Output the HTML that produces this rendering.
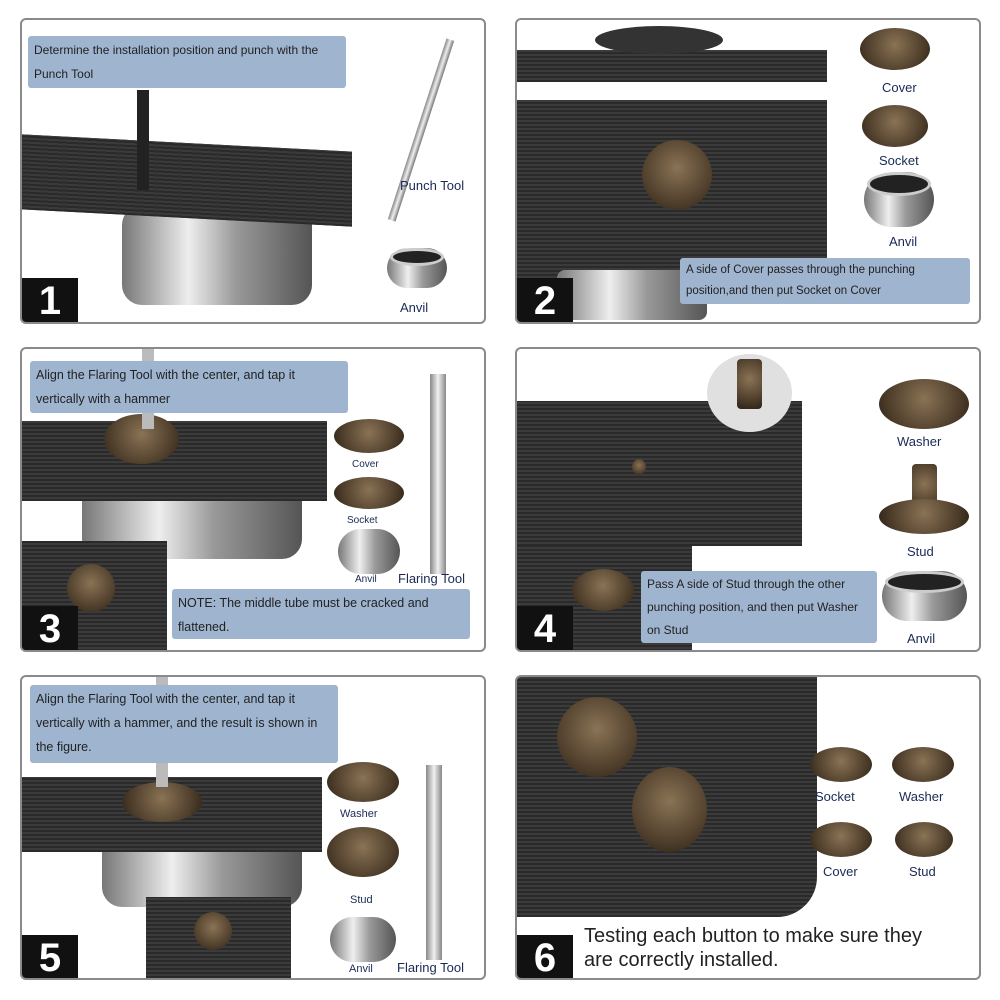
<!DOCTYPE html>
<html><head><meta charset="utf-8"><style>
body{margin:0;width:1000px;height:1000px;background:#fff;position:relative;overflow:hidden;font-family:"Liberation Sans",sans-serif}
.a{position:absolute}
.p{position:absolute;border:2px solid #8a8a8a;border-radius:6px;background:#fff;overflow:hidden;box-sizing:border-box}
.fab{position:absolute;background:repeating-linear-gradient(0deg,#2a2a2a 0 2px,#3b3b3b 2px 4px),#333}
.lab{position:absolute;background:#9fb4cf;color:#222;font-size:12.5px;line-height:26px;padding:2px 6px;box-sizing:border-box;border-radius:3px}
.num{position:absolute;background:#111;color:#fff;font-size:40px;font-weight:bold;width:56px;height:46px;text-align:center;line-height:46px}
.cap{position:absolute;font-size:13px;color:#1a2a55;text-align:center}
.bronze{position:absolute;border-radius:50%;background:radial-gradient(circle at 50% 40%,#8a7355,#4a3a28 70%,#2a2218)}
.silver{position:absolute;border-radius:8px;background:linear-gradient(90deg,#777,#eee 35%,#999 60%,#555)}
.rim{position:absolute;border-radius:50%;background:#222;border:3px solid #ccc;box-sizing:border-box}
</style></head><body>

<div class="p" style="left:20px;top:18px;width:466px;height:306px">
 <div class="silver" style="left:100px;top:185px;width:190px;height:100px;border-radius:20px"></div>
 <div class="fab" style="left:0;top:123px;width:330px;height:75px;transform:skewY(3deg)"></div>
 <div class="a" style="left:115px;top:70px;width:12px;height:100px;background:#222"></div>
 <div class="a" style="left:395px;top:15px;width:8px;height:190px;background:linear-gradient(90deg,#888,#eee,#777);transform:rotate(18deg)"></div>
 <div class="lab" style="left:6px;top:16px;width:318px;height:52px;line-height:24px;font-size:12px">Determine the installation position and punch with the Punch Tool</div>
 <div class="cap" style="left:378px;top:158px">Punch Tool</div>
 <div class="silver" style="left:365px;top:228px;width:60px;height:40px;border-radius:30px"></div>
 <div class="rim" style="left:368px;top:228px;width:54px;height:18px"></div>
 <div class="cap" style="left:378px;top:280px">Anvil</div>
 <div class="num" style="left:0;top:258px">1</div>
</div>

<div class="p" style="left:515px;top:18px;width:466px;height:306px">
 <div class="fab" style="left:0;top:30px;width:310px;height:32px"></div>
 <div class="a" style="left:78px;top:6px;width:128px;height:28px;border-radius:50%;background:#333"></div>
 <div class="fab" style="left:0;top:80px;width:310px;height:200px"></div>
 <div class="silver" style="left:40px;top:250px;width:150px;height:50px"></div>
 <div class="bronze" style="left:125px;top:120px;width:70px;height:70px"></div>
 <div class="bronze" style="left:343px;top:8px;width:70px;height:42px"></div>
 <div class="cap" style="left:365px;top:60px">Cover</div>
 <div class="bronze" style="left:345px;top:85px;width:66px;height:42px"></div>
 <div class="cap" style="left:362px;top:133px">Socket</div>
 <div class="silver" style="left:347px;top:152px;width:70px;height:55px;border-radius:30px"></div>
 <div class="rim" style="left:350px;top:152px;width:64px;height:24px"></div>
 <div class="cap" style="left:372px;top:214px">Anvil</div>
 <div class="lab" style="left:163px;top:238px;width:290px;height:46px;font-size:11.5px;line-height:21px">A side of Cover passes through the punching position,and then put Socket on Cover</div>
 <div class="num" style="left:0;top:258px">2</div>
</div>

<div class="p" style="left:20px;top:347px;width:466px;height:305px">
 <div class="silver" style="left:60px;top:130px;width:220px;height:80px;border-radius:20px"></div>
 <div class="fab" style="left:0;top:72px;width:305px;height:80px"></div>
 <div class="bronze" style="left:82px;top:65px;width:75px;height:50px"></div>
 <div class="a" style="left:120px;top:0;width:12px;height:80px;background:#bbb"></div>
 <div class="fab" style="left:0;top:192px;width:145px;height:110px"></div>
 <div class="bronze" style="left:45px;top:215px;width:48px;height:48px"></div>
 <div class="lab" style="left:8px;top:12px;width:318px;height:52px;line-height:24px;padding-right:20px">Align the Flaring Tool with the center, and tap it vertically with a hammer</div>
 <div class="bronze" style="left:312px;top:70px;width:70px;height:34px"></div>
 <div class="cap" style="left:330px;top:110px;font-size:10px">Cover</div>
 <div class="bronze" style="left:312px;top:128px;width:70px;height:32px"></div>
 <div class="cap" style="left:325px;top:166px;font-size:10px">Socket</div>
 <div class="silver" style="left:316px;top:180px;width:62px;height:45px;border-radius:26px"></div>
 <div class="cap" style="left:333px;top:225px;font-size:10px">Anvil</div>
 <div class="a" style="left:408px;top:25px;width:16px;height:200px;background:linear-gradient(90deg,#888,#f0f0f0,#888)"></div>
 <div class="cap" style="left:376px;top:222px">Flaring Tool</div>
 <div class="lab" style="left:150px;top:240px;width:298px;height:50px;line-height:24px;padding-right:20px">NOTE: The middle tube must be cracked and flattened.</div>
 <div class="num" style="left:0;top:257px">3</div>
</div>

<div class="p" style="left:515px;top:347px;width:466px;height:305px">
 <div class="fab" style="left:0;top:52px;width:285px;height:145px"></div>
 <div class="a" style="left:190px;top:5px;width:85px;height:78px;border-radius:50%;background:#e0e0e0"></div>
 <div class="bronze" style="left:220px;top:10px;width:25px;height:50px;border-radius:4px"></div>
 <div class="bronze" style="left:115px;top:110px;width:14px;height:16px"></div>
 <div class="fab" style="left:0;top:197px;width:175px;height:105px"></div>
 <div class="bronze" style="left:55px;top:220px;width:62px;height:42px"></div>
 <div class="bronze" style="left:362px;top:30px;width:90px;height:50px"></div>
 <div class="cap" style="left:380px;top:85px">Washer</div>
 <div class="bronze" style="left:395px;top:115px;width:25px;height:50px;border-radius:4px"></div>
 <div class="bronze" style="left:362px;top:150px;width:90px;height:35px"></div>
 <div class="cap" style="left:390px;top:195px">Stud</div>
 <div class="silver" style="left:365px;top:222px;width:85px;height:50px;border-radius:30px"></div>
 <div class="rim" style="left:368px;top:222px;width:79px;height:22px"></div>
 <div class="cap" style="left:390px;top:282px">Anvil</div>
 <div class="lab" style="left:124px;top:222px;width:236px;height:72px;font-size:12px;line-height:23px;padding-right:10px">Pass A side of Stud through the other punching position, and then put Washer on Stud</div>
 <div class="num" style="left:0;top:257px">4</div>
</div>

<div class="p" style="left:20px;top:675px;width:466px;height:305px">
 <div class="silver" style="left:80px;top:150px;width:200px;height:80px;border-radius:20px"></div>
 <div class="fab" style="left:0;top:100px;width:300px;height:75px"></div>
 <div class="bronze" style="left:100px;top:105px;width:80px;height:40px"></div>
 <div class="a" style="left:134px;top:0;width:12px;height:110px;background:#bbb"></div>
 <div class="fab" style="left:124px;top:220px;width:145px;height:85px"></div>
 <div class="bronze" style="left:172px;top:235px;width:38px;height:38px"></div>
 <div class="lab" style="left:8px;top:8px;width:308px;height:78px;line-height:24px;padding-right:16px">Align the Flaring Tool with the center, and tap it vertically with a hammer, and the result is shown in the figure.</div>
 <div class="bronze" style="left:305px;top:85px;width:72px;height:40px"></div>
 <div class="cap" style="left:318px;top:131px;font-size:11px">Washer</div>
 <div class="bronze" style="left:305px;top:150px;width:72px;height:50px"></div>
 <div class="cap" style="left:328px;top:217px;font-size:11px">Stud</div>
 <div class="silver" style="left:308px;top:240px;width:66px;height:45px;border-radius:26px"></div>
 <div class="cap" style="left:327px;top:286px;font-size:11px">Anvil</div>
 <div class="a" style="left:404px;top:88px;width:16px;height:195px;background:linear-gradient(90deg,#888,#f0f0f0,#888)"></div>
 <div class="cap" style="left:375px;top:283px">Flaring Tool</div>
 <div class="num" style="left:0;top:258px">5</div>
</div>

<div class="p" style="left:515px;top:675px;width:466px;height:305px">
 <div class="fab" style="left:0;top:0;width:300px;height:240px;border-radius:0 0 40px 0"></div>
 <div class="bronze" style="left:40px;top:20px;width:80px;height:80px"></div>
 <div class="bronze" style="left:115px;top:90px;width:75px;height:85px"></div>
 <div class="bronze" style="left:293px;top:70px;width:62px;height:35px"></div>
 <div class="cap" style="left:298px;top:112px">Socket</div>
 <div class="bronze" style="left:375px;top:70px;width:62px;height:35px"></div>
 <div class="cap" style="left:382px;top:112px">Washer</div>
 <div class="bronze" style="left:293px;top:145px;width:62px;height:35px"></div>
 <div class="cap" style="left:306px;top:187px">Cover</div>
 <div class="bronze" style="left:378px;top:145px;width:58px;height:35px"></div>
 <div class="cap" style="left:392px;top:187px">Stud</div>
 <div class="a" style="left:67px;top:247px;font-size:20px;color:#222;line-height:24px">Testing each button to make sure they<br>are correctly installed.</div>
 <div class="num" style="left:0;top:258px">6</div>
</div>
</body></html>
